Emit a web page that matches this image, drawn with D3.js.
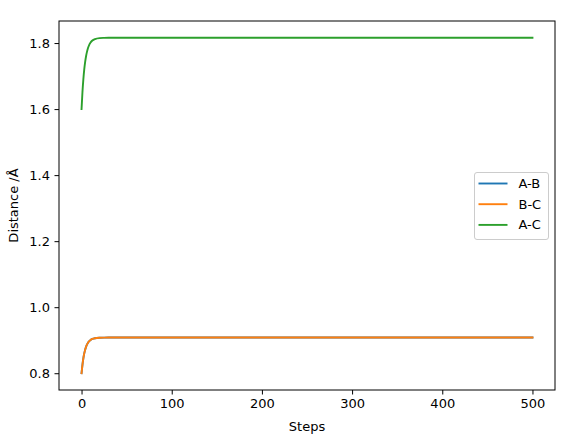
<!DOCTYPE html>
<html>
<head>
<meta charset="utf-8">
<script src="https://cdn.jsdelivr.net/npm/d3@7"></script>
<style>
  body { margin: 0; background: #fff; }
  svg text { font-family: "DejaVu Sans", sans-serif; fill: #000; }
</style>
</head>
<body>
<div id="container"></div>
<script>
/* data */
var steps = [0, 1, 2, 3, 4, 5, 6, 7, 8, 10, 12, 15, 20, 25, 30, 500];
var distAB = [0.8, 0.8256, 0.8451, 0.8600, 0.8714, 0.8800, 0.8867, 0.8917, 0.8956, 0.9008, 0.9038, 0.9061, 0.9075, 0.9079, 0.908, 0.908];
var distBC = [0.8, 0.8256, 0.8451, 0.8600, 0.8714, 0.8800, 0.8867, 0.8917, 0.8956, 0.9008, 0.9038, 0.9061, 0.9075, 0.9079, 0.908, 0.908];
var distAC = [1.6, 1.6511, 1.6902, 1.7200, 1.7427, 1.7601, 1.7733, 1.7834, 1.7911, 1.8015, 1.8076, 1.8122, 1.8150, 1.8157, 1.816, 1.816];
var seriesNames = ["A-B", "B-C", "A-C"];
var seriesColors = ["#1f77b4", "#ff7f0e", "#2ca02c"];
var xTicks = [0, 100, 200, 300, 400, 500];
var yTicks = [0.8, 1.0, 1.2, 1.4, 1.6, 1.8];

/* setup the dimensions */
var W = 580, H = 437;
var margin = { top: 21, bottom: 47, left: 59, right: 25 },
    width = W - margin.left - margin.right,
    height = H - margin.top - margin.bottom;

var x = d3.scaleLinear().domain([-25, 525]).range([0, width]);
var y = d3.scaleLinear().domain([0.7492, 1.8668]).range([height, 0]);

var svg = d3.select("#container")
            .append("svg")
            .attr("width", W)
            .attr("height", H)

var g = svg.append("g")
           .attr("transform", "translate(" + margin.left + "," + margin.top + ")")

/* lines */
var series = [distAB, distBC, distAC];
var line = d3.line()
             .curve(d3.curveMonotoneX)
             .x(function(d, i) { return x(steps[i]) })
             .y(function(d) { return y(d) })

g.selectAll(".series")
 .data(series)
 .enter().append("path")
   .attr("class", "series")
   .attr("fill", "none")
   .attr("stroke", function(d, i) { return seriesColors[i] })
   .attr("stroke-width", 1.9)
   .attr("stroke-linejoin", "round")
   .attr("stroke-linecap", "square")
   .attr("d", line)

/* axes */
var xAxis = g.append("g")
             .attr("transform", "translate(0," + height + ")")
             .call(d3.axisBottom(x).tickValues(xTicks).tickSize(4.5).tickPadding(4.5).tickFormat(d3.format("d")))
var yAxis = g.append("g")
             .call(d3.axisLeft(y).tickValues(yTicks).tickSize(4.5).tickPadding(4.5).tickFormat(d3.format(".1f")))

;[xAxis, yAxis].forEach(function(a) {
  a.select(".domain").remove()
  a.selectAll("line").attr("stroke", "#000").attr("stroke-width", 1)
  a.selectAll("text").attr("font-size", "13px").attr("font-family", "DejaVu Sans, sans-serif")
})

/* frame */
g.append("rect")
 .attr("x", 0).attr("y", 0)
 .attr("width", width).attr("height", height)
 .attr("fill", "none")
 .attr("stroke", "#000")
 .attr("stroke-width", 1)

/* axis labels */
svg.append("text")
   .attr("x", margin.left + width / 2)
   .attr("y", 430.5)
   .attr("text-anchor", "middle")
   .attr("font-size", "13px")
   .text("Steps")

svg.append("text")
   .attr("transform", "translate(17.5," + (margin.top + height / 2) + ") rotate(-90)")
   .attr("text-anchor", "middle")
   .attr("font-size", "13px")
   .text("Distance /Å")

/* legend */
var legend = svg.append("g").attr("transform", "translate(474.5,172.5)")
legend.append("rect")
      .attr("width", 74).attr("height", 67)
      .attr("rx", 2.5)
      .attr("fill", "#fff").attr("fill-opacity", 0.8)
      .attr("stroke", "#cccccc")
      .attr("stroke-width", 1)

var items = legend.selectAll(".item")
                  .data(seriesNames)
                  .enter().append("g")
                  .attr("transform", function(d, i) { return "translate(0," + (11 + i * 20.7) + ")" })
items.append("line")
     .attr("x1", 4).attr("x2", 33)
     .attr("stroke", function(d, i) { return seriesColors[i] })
     .attr("stroke-width", 1.9)
items.append("text")
     .attr("x", 44)
     .attr("dy", "0.35em")
     .attr("font-size", "13px")
     .text(function(d) { return d })
</script>
</body>
</html>
